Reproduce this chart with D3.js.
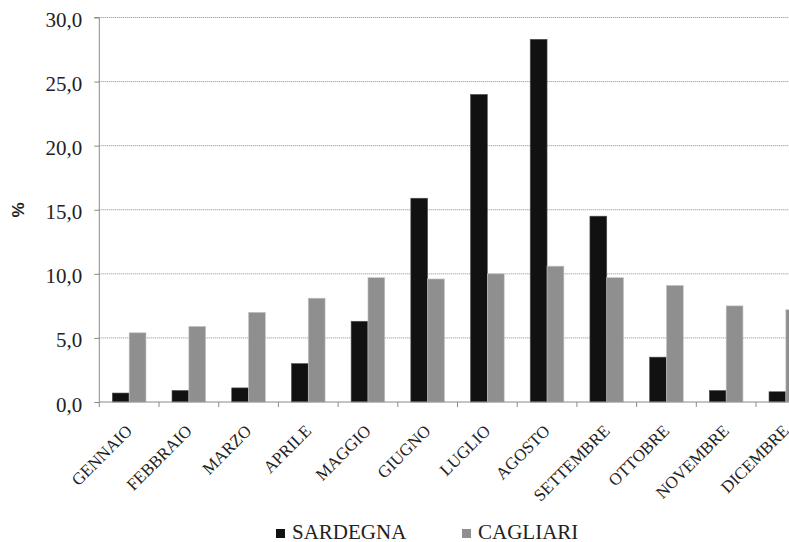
<!DOCTYPE html>
<html><head><meta charset="utf-8">
<script src="https://cdn.jsdelivr.net/npm/d3@7"></script>
<style>html,body{margin:0;padding:0;background:#fff;overflow:hidden}</style>
</head><body>
<svg id="chart" width="789" height="542"></svg>
<script>
const months = ["GENNAIO","FEBBRAIO","MARZO","APRILE","MAGGIO","GIUGNO","LUGLIO","AGOSTO","SETTEMBRE","OTTOBRE","NOVEMBRE","DICEMBRE"];
const sardegna = [0.7,0.9,1.1,3.0,6.3,15.9,24.0,28.3,14.5,3.5,0.9,0.8];
const cagliari = [5.4,5.9,7.0,8.1,9.7,9.6,10.0,10.6,9.7,9.1,7.5,7.2];
const seriesNames = ["SARDEGNA","CAGLIARI"];
const seriesColors = ["#111111","#8f8f8f"];
const yTicks = [0,5,10,15,20,25,30];

const SERIF = '"Liberation Serif"';
const SANS = '"Liberation Sans"';
const svg = d3.select("#chart");
const left = 99.3, bw = 59.7;
const x = d3.scaleBand().domain(months).range([left, left + bw*months.length]).padding(0);
const y = d3.scaleLinear().domain([0,30]).range([402,17.5]);
const right = left + bw*months.length;

// gridlines
svg.append("g").selectAll("line").data(yTicks.filter(d=>d>0)).join("line")
  .attr("x1", left).attr("x2", right)
  .attr("y1", d=>y(d)).attr("y2", d=>y(d))
  .attr("stroke","#8a8a8a").attr("stroke-width",1).attr("stroke-dasharray","1,1");

// bars
const data = months.map((m,i)=>({m, v:[sardegna[i], cagliari[i]]}));
const g = svg.append("g");
const inner = d3.scaleBand().domain([0,1]).range([0.218*bw, 0.782*bw]).padding(0);
data.forEach(d=>{
  d.v.forEach((v,k)=>{
    g.append("rect")
      .attr("x", x(d.m)+inner(k)).attr("width", inner.bandwidth())
      .attr("y", y(v)).attr("height", y(0)-y(v))
      .attr("fill", seriesColors[k])
      .attr("stroke", k===0 ? "#555" : "#c8c8c8").attr("stroke-width",0.6);
  });
});

// y axis
const yAxis = d3.axisLeft(y).tickValues(yTicks).tickSize(5).tickPadding(12)
  .tickFormat(d=>d3.format(".1f")(d).replace(".",","));
const ya = svg.append("g").attr("transform",`translate(${left},0)`).call(yAxis);
ya.select(".domain").attr("stroke","#8a8a8a").attr("d",`M-5,${y(30)}H0V${y(0)}`);
ya.selectAll(".tick line").attr("stroke","#8a8a8a");
ya.selectAll("text").style("font-family",SERIF).style("font-size","21px").attr("fill","#222").attr("dy","9px");

// x axis
const xa = svg.append("g").attr("transform",`translate(0,${y(0)})`);
xa.append("line").attr("x1",left).attr("x2",right).attr("y1",0).attr("y2",0).attr("stroke","#8a8a8a");
xa.selectAll("line.t").data(d3.range(months.length+1)).join("line").attr("class","t")
  .attr("x1",i=>left+i*bw).attr("x2",i=>left+i*bw).attr("y1",0).attr("y2",5).attr("stroke","#8a8a8a");
xa.selectAll("text").data(months).join("text")
  .attr("transform", d=>`translate(${x(d)+x.bandwidth()/2+4},${30}) rotate(-45)`)
  .attr("text-anchor","end").style("font-family",SERIF).style("font-size","17px").attr("fill","#222")
  .text(d=>d);

// y title
svg.append("text").attr("transform","translate(24,210) rotate(-90)")
  .attr("text-anchor","middle").style("font-family",SANS)
  .style("font-weight","bold").style("font-size","17px").attr("fill","#222").text("%");

// legend
const legX = [276, 462];
seriesNames.forEach((n,k)=>{
  svg.append("rect").attr("x",legX[k]).attr("y",529).attr("width",9).attr("height",9).attr("fill",seriesColors[k]);
  svg.append("text").attr("x",legX[k]+16).attr("y",539).style("font-family",SERIF)
    .style("font-size","21px").attr("fill","#222").text(n);
});
</script>
</body></html>
